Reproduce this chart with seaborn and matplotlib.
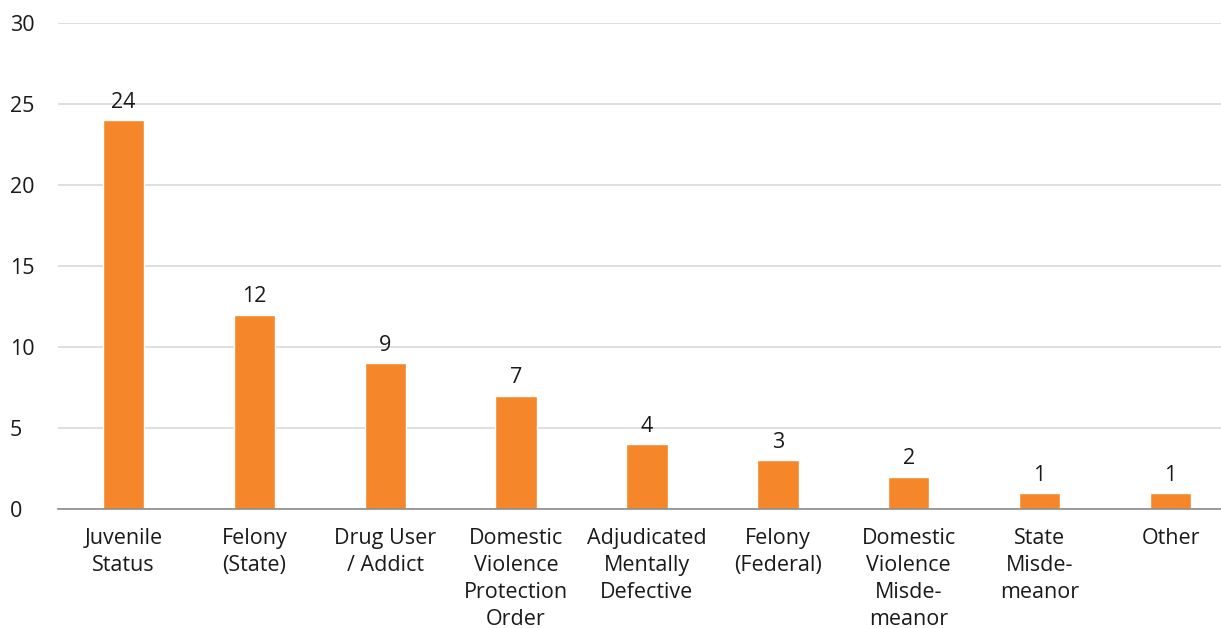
import matplotlib
matplotlib.use("Agg")
import matplotlib.pyplot as plt
import matplotlib.transforms as mtransforms
import seaborn as sns
import pandas as pd

categories = ["Juvenile\nStatus", "Felony\n(State)", "Drug User\n/ Addict",
              "Domestic\nViolence\nProtection\nOrder", "Adjudicated\nMentally\nDefective",
              "Felony\n(Federal)", "Domestic\nViolence\nMisde-\nmeanor", "State\nMisde-\nmeanor", "Other"]
values = [24, 12, 9, 7, 4, 3, 2, 1, 1]
yticks = [0, 5, 10, 15, 20, 25, 30]

sns.set_theme(style="white")
plt.rcParams['font.family'] = ['Open Sans', 'DejaVu Sans']

df = pd.DataFrame({"cat": categories, "val": values})

fig = plt.figure(figsize=(12.21, 6.28), dpi=100)
ax = fig.add_axes([58/1221, 1 - 509/628, 1178/1221, (509-23)/628])

sns.barplot(data=df, x="cat", y="val", color="#F5872A", saturation=1, width=0.315, ax=ax, zorder=3)

ax.set_ylim(0, 30)
ax.set_xlim(-0.5, len(categories) - 0.5)
ax.set_yticks(yticks)
ax.yaxis.grid(True, color="#D9D9D9", linewidth=1.2, zorder=0)
ax.set_axisbelow(True)
for s in ["top", "right", "left"]:
    ax.spines[s].set_visible(False)
ax.spines["bottom"].set_color("#8C8C8C")
ax.spines["bottom"].set_linewidth(1.2)
ax.spines["bottom"].set_zorder(4)
ax.set_xlabel("")
ax.set_ylabel("")
ax.tick_params(axis="both", length=0, labelsize=15.5, colors="#1a1a1a")
ax.tick_params(axis="x", pad=14)
for lbl in ax.get_xticklabels():
    lbl.set_linespacing(1.36)
for lbl in ax.get_yticklabels():
    lbl.set_horizontalalignment("left")
    lbl.set_transform(mtransforms.blended_transform_factory(fig.transFigure, ax.transData))
    lbl.set_x(10/1221)

for i, v in enumerate(values):
    ax.text(i, v + 0.45, str(v), ha="center", va="bottom", fontsize=15.5, color="#1a1a1a")

fig.savefig("out.png", dpi=100)
